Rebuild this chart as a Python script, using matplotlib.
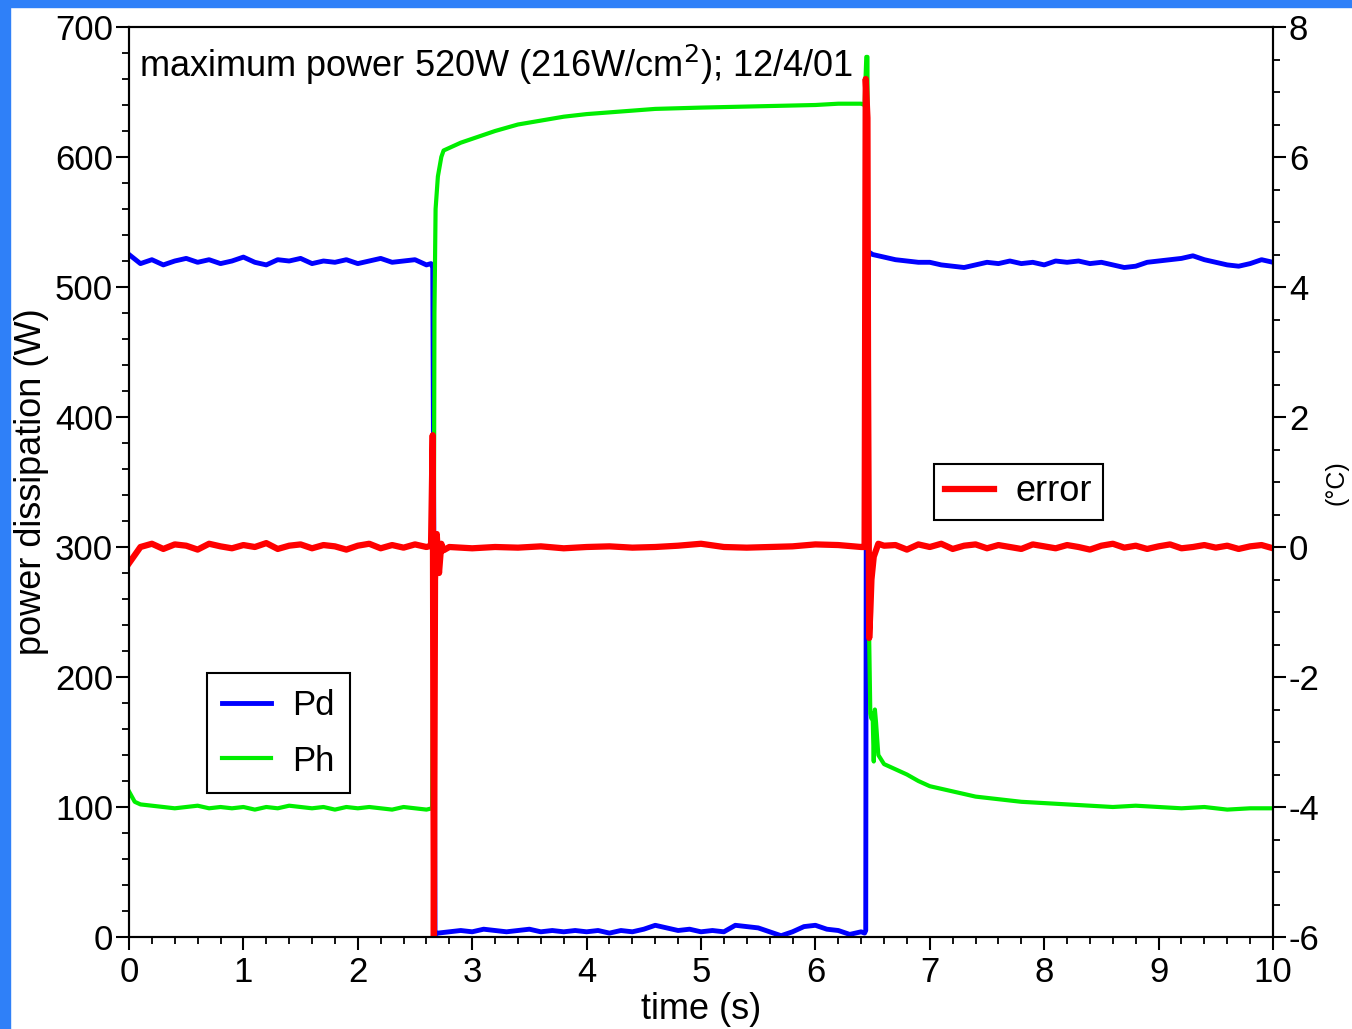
import matplotlib
matplotlib.use("Agg")
import matplotlib.pyplot as plt
from matplotlib.patches import Rectangle
from matplotlib.ticker import MultipleLocator
from matplotlib import font_manager

plt.rcParams['font.family'] = ['Liberation Sans', 'DejaVu Sans']
plt.rcParams['axes.unicode_minus'] = False

# ---------------- data ----------------
pd_time = [0.0, 0.1, 0.2, 0.3, 0.4, 0.5, 0.6, 0.7, 0.8, 0.9, 1.0, 1.1, 1.2, 1.3,
           1.4, 1.5, 1.6, 1.7, 1.8, 1.9, 2.0, 2.1, 2.2, 2.3, 2.4, 2.5, 2.6, 2.64,
           2.655, 2.665, 2.675,
           2.7, 2.8, 2.9, 3.0, 3.1, 3.2, 3.3, 3.4, 3.5, 3.6, 3.7, 3.8, 3.9, 4.0,
           4.1, 4.2, 4.3, 4.4, 4.5, 4.6, 4.7, 4.8, 4.9, 5.0, 5.1, 5.2, 5.3, 5.4,
           5.5, 5.6, 5.7, 5.8, 5.9, 6.0, 6.1, 6.2, 6.3, 6.4, 6.43,
           6.44, 6.445, 6.455, 6.465,
           6.5, 6.6, 6.7, 6.8, 6.9, 7.0, 7.1, 7.2, 7.3, 7.4, 7.5, 7.6, 7.7, 7.8,
           7.9, 8.0, 8.1, 8.2, 8.3, 8.4, 8.5, 8.6, 8.7, 8.8, 8.9, 9.0, 9.1, 9.2,
           9.3, 9.4, 9.5, 9.6, 9.7, 9.8, 9.9, 10.0]
pd_power = [525, 518, 521, 517, 520, 522, 519, 521, 518, 520, 523, 519, 517, 521,
            520, 522, 518, 520, 519, 521, 518, 520, 522, 519, 520, 521, 517, 518,
            515, 300, 2,
            3, 4, 5, 4, 6, 5, 4, 5, 6, 4, 5, 4, 5, 4,
            5, 3, 5, 4, 6, 9, 7, 5, 6, 4, 5, 4, 9, 8,
            7, 4, 1, 4, 8, 9, 6, 5, 2, 4, 3,
            5, 372, 372, 527,
            525, 523, 521, 520, 519, 519, 517, 516, 515, 517, 519, 518, 520, 518,
            519, 517, 520, 519, 520, 518, 519, 517, 515, 516, 519, 520, 521, 522,
            524, 521, 519, 517, 516, 518, 521, 519]

ph_time = [0.0, 0.05, 0.1, 0.2, 0.3, 0.4, 0.5, 0.6, 0.7, 0.8, 0.9, 1.0, 1.1, 1.2,
           1.3, 1.4, 1.5, 1.6, 1.7, 1.8, 1.9, 2.0, 2.1, 2.2, 2.3, 2.4, 2.5, 2.6,
           2.65, 2.665, 2.67, 2.68, 2.7, 2.73, 2.75, 2.8, 2.9, 3.0, 3.2, 3.4, 3.6,
           3.8, 4.0, 4.3, 4.6, 5.0, 5.5, 6.0, 6.2, 6.4, 6.43, 6.445, 6.455, 6.46,
           6.465, 6.47, 6.48, 6.49, 6.5, 6.51, 6.52, 6.53, 6.55, 6.6, 6.7, 6.8,
           6.9, 7.0, 7.2, 7.4, 7.6, 7.8, 8.0, 8.2, 8.4, 8.6, 8.8, 9.0, 9.2, 9.4,
           9.6, 9.8, 10.0]
ph_power = [112, 104, 102, 101, 100, 99, 100, 101, 99, 100, 99, 100, 98, 100,
            99, 101, 100, 99, 100, 98, 100, 99, 100, 99, 98, 100, 99, 98,
            99, 300, 480, 560, 585, 600, 605, 607, 611, 614, 620, 625, 628,
            631, 633, 635, 637, 638, 639, 640, 641, 641, 640, 677, 677, 420,
            300, 230, 172, 168, 172, 135, 175, 165, 140, 133, 129, 125,
            120, 116, 112, 108, 106, 104, 103, 102, 101, 100, 101, 100, 99, 100,
            98, 99, 99]

err_time = [0.0, 0.1, 0.2, 0.3, 0.4, 0.5, 0.6, 0.7, 0.8, 0.9, 1.0, 1.1, 1.2, 1.3,
            1.4, 1.5, 1.6, 1.7, 1.8, 1.9, 2.0, 2.1, 2.2, 2.3, 2.4, 2.5, 2.6, 2.64,
            2.655, 2.665, 2.675, 2.69, 2.71, 2.73, 2.75,
            2.8, 3.0, 3.2, 3.4, 3.6, 3.8, 4.0, 4.2, 4.4, 4.6, 4.8, 5.0, 5.2, 5.4,
            5.6, 5.8, 6.0, 6.2, 6.4, 6.43,
            6.44, 6.455, 6.46, 6.47, 6.48, 6.49, 6.51, 6.55,
            6.6, 6.7, 6.8, 6.9, 7.0, 7.1, 7.2, 7.3, 7.4, 7.5, 7.6, 7.7, 7.8, 7.9,
            8.0, 8.1, 8.2, 8.3, 8.4, 8.5, 8.6, 8.7, 8.8, 8.9, 9.0, 9.1, 9.2, 9.3,
            9.4, 9.5, 9.6, 9.7, 9.8, 9.9, 10.0]
err_temp = [-0.25, 0.0, 0.05, -0.03, 0.04, 0.02, -0.04, 0.05, 0.01, -0.02, 0.03, 0.0, 0.06, -0.03,
            0.02, 0.04, -0.02, 0.03, 0.01, -0.04, 0.02, 0.05, -0.02, 0.03, -0.01, 0.04, 0.0, 0.02,
            1.72, -6.3, -0.5, 0.2, -0.4, 0.05, -0.05,
            0.0, -0.02, 0.0, -0.01, 0.01, -0.02, 0.0, 0.01, -0.01, 0.0, 0.02, 0.05, 0.0, -0.01,
            0.0, 0.01, 0.04, 0.03, 0.0, 0.0,
            7.2, 6.6, 2.8, -1.4, -1.0, -0.5, -0.15, 0.05,
            0.02, 0.03, -0.04, 0.04, 0.0, 0.05, -0.03, 0.02, 0.04, -0.02, 0.03, 0.0, -0.03, 0.04,
            0.01, -0.02, 0.03, 0.0, -0.04, 0.02, 0.05, -0.01, 0.02, -0.03, 0.01, 0.04, -0.02, 0.0,
            0.03, -0.01, 0.02, -0.03, 0.01, 0.03, -0.02]

title_text = "maximum power 520W (216W/cm$^2$); 12/4/01"

# narrow font for the annotation if available
_names = {f.name for f in font_manager.fontManager.ttflist}
if 'Liberation Sans Narrow' in _names:
    title_family = ['Liberation Sans Narrow', 'Liberation Sans', 'DejaVu Sans']
    title_fs = 32
else:
    title_family = ['Liberation Sans', 'DejaVu Sans']
    title_fs = 26

# ---------------- figure ----------------
fig = plt.figure(figsize=(13.52, 10.29), dpi=100)
fig.patches.append(Rectangle((0, 0), 10 / 1352, 1, transform=fig.transFigure,
                             color='#2f80f8', zorder=0))
fig.patches.append(Rectangle((0, 1 - 7 / 1029), 1, 7 / 1029, transform=fig.transFigure,
                             color='#2f80f8', zorder=0))

ax = fig.add_axes([129 / 1352, 1 - 937 / 1029, (1273 - 129) / 1352, (937 - 27) / 1029])
ax2 = ax.twinx()

FS = 25
l_pd, = ax.plot(pd_time, pd_power, color='#0000ff', lw=3.5, label='Pd')
l_ph, = ax.plot(ph_time, ph_power, color='#00ee00', lw=3.0, label='Ph')
l_err, = ax2.plot(err_time, err_temp, color='#ff0000', lw=4.5, label='error')

ax.set_xlim(0, 10)
ax.set_ylim(0, 700)
ax2.set_ylim(-6, 8)

ax.xaxis.set_major_locator(MultipleLocator(1))
ax.xaxis.set_minor_locator(MultipleLocator(0.2))
ax.yaxis.set_major_locator(MultipleLocator(100))
ax.yaxis.set_minor_locator(MultipleLocator(20))
ax2.yaxis.set_major_locator(MultipleLocator(2))
ax2.yaxis.set_minor_locator(MultipleLocator(0.5))

for a in (ax, ax2):
    for s in a.spines.values():
        s.set_linewidth(1.5)
    a.tick_params(which='major', length=9.5, width=1.5, labelsize=FS, direction='out')
    a.tick_params(which='minor', length=5, width=1.3, direction='out')
ax.tick_params(axis='y', pad=2)
ax.tick_params(axis='x', pad=4)
ax2.tick_params(axis='y', pad=2)

ax.set_xlabel('time (s)', fontsize=FS + 1, labelpad=2)
ax.set_ylabel('power dissipation (W)', fontsize=FS + 1, labelpad=4)
fig.text(1337 / 1352, 1 - 483 / 1029, '(°C)', fontsize=18, rotation=90,
         ha='center', va='center')

ax.text(0.009, 0.983, title_text, transform=ax.transAxes, fontsize=title_fs,
        family=title_family, ha='left', va='top')

leg1 = ax.legend(handles=[l_pd, l_ph], loc='lower left', bbox_to_anchor=(0.068, 0.158),
                 fontsize=FS, frameon=True, fancybox=False, framealpha=1,
                 edgecolor='black', handlelength=1.4, handletextpad=0.6,
                 borderpad=0.45, labelspacing=0.65, borderaxespad=0)
leg1.get_frame().set_linewidth(1.5)
leg2 = ax2.legend(handles=[l_err], loc='lower left', bbox_to_anchor=(0.704, 0.458),
                  fontsize=FS + 1, frameon=True, fancybox=False, framealpha=1,
                  edgecolor='black', handlelength=1.35, handletextpad=0.6,
                  borderpad=0.3, borderaxespad=0)
leg2.get_frame().set_linewidth(1.5)

fig.savefig('out.png', dpi=100)
